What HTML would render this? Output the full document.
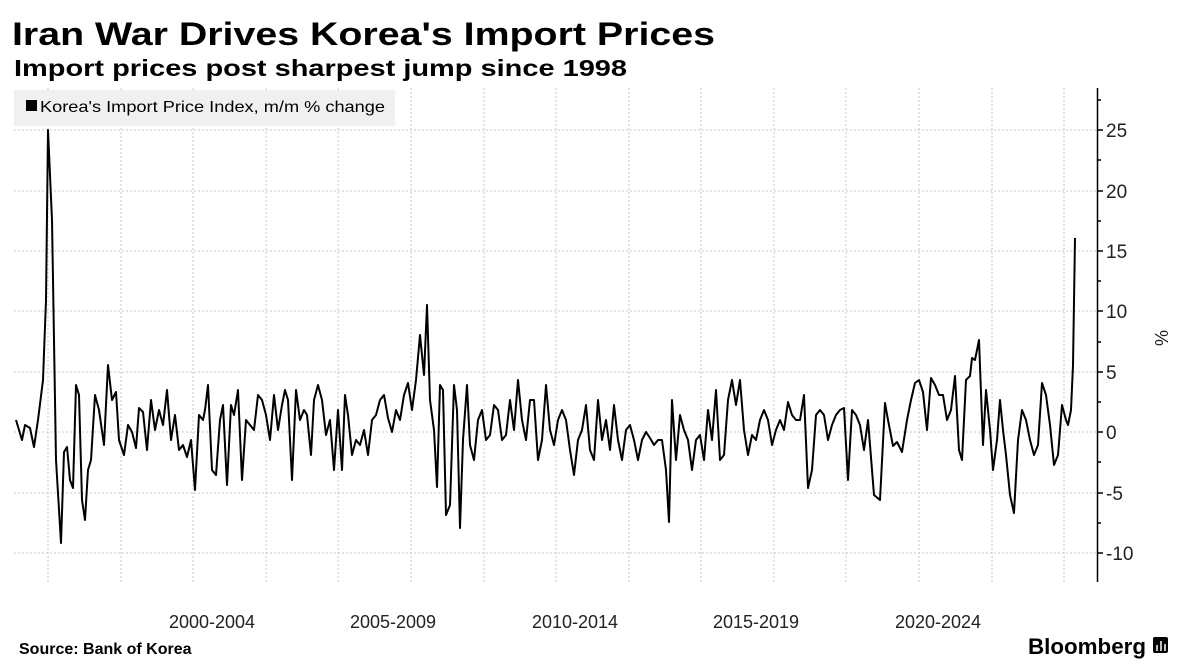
<!DOCTYPE html>
<html><head><meta charset="utf-8"><style>
html,body{margin:0;padding:0;background:#fff;}
svg{display:block;font-family:"Liberation Sans","DejaVu Sans",sans-serif;}
</style></head><body>
<svg width="1179" height="669" viewBox="0 0 1179 669" xmlns="http://www.w3.org/2000/svg">
<text x="12" y="45" font-size="32" font-weight="bold" textLength="703" lengthAdjust="spacingAndGlyphs">Iran War Drives Korea's Import Prices</text>
<text x="14" y="76" font-size="23" font-weight="bold" textLength="613" lengthAdjust="spacingAndGlyphs">Import prices post sharpest jump since 1998</text>
<g stroke="#c8c8c8" stroke-width="1" stroke-dasharray="2,2">
<line x1="14" x2="1097" y1="130" y2="130"/><line x1="14" x2="1097" y1="191" y2="191"/><line x1="14" x2="1097" y1="251" y2="251"/><line x1="14" x2="1097" y1="311" y2="311"/><line x1="14" x2="1097" y1="372" y2="372"/><line x1="14" x2="1097" y1="432" y2="432"/><line x1="14" x2="1097" y1="493" y2="493"/><line x1="14" x2="1097" y1="553" y2="553"/>
<line x1="48" x2="48" y1="88" y2="582"/><line x1="121" x2="121" y1="88" y2="582"/><line x1="193" x2="193" y1="88" y2="582"/><line x1="266" x2="266" y1="88" y2="582"/><line x1="338" x2="338" y1="88" y2="582"/><line x1="411" x2="411" y1="88" y2="582"/><line x1="484" x2="484" y1="88" y2="582"/><line x1="556" x2="556" y1="88" y2="582"/><line x1="629" x2="629" y1="88" y2="582"/><line x1="701" x2="701" y1="88" y2="582"/><line x1="774" x2="774" y1="88" y2="582"/><line x1="846" x2="846" y1="88" y2="582"/><line x1="919" x2="919" y1="88" y2="582"/><line x1="992" x2="992" y1="88" y2="582"/><line x1="1064" x2="1064" y1="88" y2="582"/>
</g>
<rect x="14" y="90" width="381" height="36" fill="#f0f0f0"/>
<rect x="26" y="100" width="11" height="11" fill="#000"/>
<text x="40" y="112" font-size="16" textLength="345" lengthAdjust="spacingAndGlyphs">Korea's Import Price Index, m/m % change</text>
<polyline fill="none" stroke="#000" stroke-width="2" stroke-linejoin="round" points="16,420 22,440 25,425 30,428 34,447 38,420 43,380 46,300 48,130 52,220 56,460 61,543 64,452 67,447 70,480 73,488 76,385 79,395 82,500 85,520 88,470 91,460 95,395 99,410 104,445 108,365 112,400 116,392 119,440 124,455 128,425 132,432 136,448 139,408 143,412 147,450 151,400 155,430 159,410 163,425 167,390 171,440 175,415 179,450 183,445 187,457 191,440 195,490 199,415 203,420 205,410 208,385 212,470 216,475 220,420 223,405 227,485 231,405 234,415 238,390 242,480 246,420 250,425 254,430 258,395 262,400 266,415 270,440 274,395 278,430 282,405 285,390 288,400 292,480 296,390 300,420 304,410 307,415 311,455 314,400 318,385 322,400 326,435 330,420 334,470 338,410 342,470 345,395 348,415 352,455 356,440 360,445 364,430 368,455 372,420 376,415 380,400 384,395 388,418 392,432 396,410 400,420 404,395 408,383 412,410 416,380 420,335 424,375 427,305 430,400 434,430 437,487 440,385 443,390 446,515 450,505 454,385 457,410 460,528 463,440 467,385 470,445 474,460 478,420 482,410 486,440 490,435 494,405 498,410 502,440 506,435 510,400 514,430 518,380 522,420 526,440 530,400 534,400 538,460 542,440 546,385 550,430 554,445 558,420 562,410 566,420 570,450 574,475 578,440 582,430 586,405 590,450 594,460 598,400 602,440 606,420 610,450 614,405 618,440 622,460 626,430 630,425 634,440 638,460 642,440 646,432 650,438 654,445 658,440 662,440 666,470 669,522 672,400 676,460 680,415 684,430 688,440 692,470 696,440 700,435 704,460 708,410 712,440 716,390 720,460 724,455 728,400 732,380 736,405 740,380 744,430 748,455 752,435 756,440 760,420 764,410 768,420 772,445 776,430 780,420 784,430 788,402 792,415 796,420 800,420 804,395 808,488 812,470 816,415 820,410 824,415 828,440 832,425 836,415 840,410 844,408 848,480 852,410 856,415 860,425 864,450 868,420 872,470 874,495 880,500 885,403 888,420 893,446 897,442 902,452 907,420 911,400 915,383 919,380 923,392 927,430 931,378 935,385 939,395 943,395 947,420 951,410 955,376 959,450 962,460 966,380 970,376 972,358 975,360 979,340 983,445 986,390 990,430 993,470 997,440 1000,400 1003,430 1006,455 1010,495 1014,513 1018,440 1022,410 1026,420 1030,440 1034,455 1038,445 1042,383 1046,395 1050,425 1054,465 1058,455 1062,405 1066,420 1068,425 1071,410 1073,365 1075,238"/>
<line x1="1097.5" x2="1097.5" y1="88" y2="582" stroke="#000" stroke-width="1.5"/>
<g stroke="#000" stroke-width="1.5">
<line x1="1097" x2="1103" y1="130" y2="130"/><line x1="1097" x2="1103" y1="191" y2="191"/><line x1="1097" x2="1103" y1="251" y2="251"/><line x1="1097" x2="1103" y1="311" y2="311"/><line x1="1097" x2="1103" y1="372" y2="372"/><line x1="1097" x2="1103" y1="432" y2="432"/><line x1="1097" x2="1103" y1="493" y2="493"/><line x1="1097" x2="1103" y1="553" y2="553"/>
<line x1="1097" x2="1101" y1="100" y2="100"/><line x1="1097" x2="1101" y1="160" y2="160"/><line x1="1097" x2="1101" y1="221" y2="221"/><line x1="1097" x2="1101" y1="281" y2="281"/><line x1="1097" x2="1101" y1="342" y2="342"/><line x1="1097" x2="1101" y1="402" y2="402"/><line x1="1097" x2="1101" y1="462" y2="462"/><line x1="1097" x2="1101" y1="523" y2="523"/>
</g>
<g font-size="19" fill="#222">
<text x="1106" y="137">25</text><text x="1106" y="198">20</text><text x="1106" y="258">15</text><text x="1106" y="318">10</text><text x="1106" y="379">5</text><text x="1106" y="439">0</text><text x="1106" y="500">-5</text><text x="1106" y="560">-10</text>
</g>
<text transform="translate(1155,338) rotate(90)" font-size="18" fill="#222" text-anchor="middle">%</text>
<g font-size="18" fill="#222" text-anchor="middle">
<text x="212" y="628">2000-2004</text><text x="393" y="628">2005-2009</text><text x="575" y="628">2010-2014</text><text x="756" y="628">2015-2019</text><text x="938" y="628">2020-2024</text>
</g>
<text x="19" y="654" font-size="16" font-weight="bold">Source: Bank of Korea</text>
<text x="1028" y="654" font-size="22" font-weight="bold" textLength="118" lengthAdjust="spacingAndGlyphs">Bloomberg</text>
<rect x="1153" y="637" width="15" height="16" rx="2" fill="#000"/>
<g stroke="#fff" stroke-width="1.5"><line x1="1157" x2="1157" y1="645" y2="651"/><line x1="1161" x2="1161" y1="641" y2="651"/><line x1="1165" x2="1165" y1="644" y2="651"/></g>
</svg>
</body></html>
